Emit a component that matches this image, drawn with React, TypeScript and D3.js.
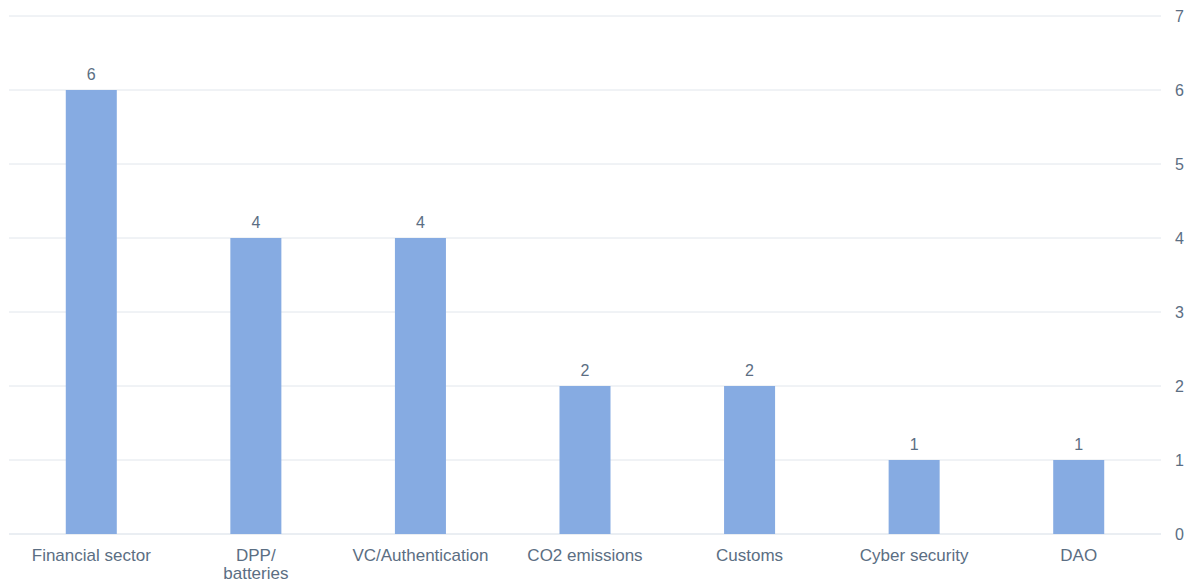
import React from 'react';
import * as d3 from 'd3';

// Values
const categories: string[] = [
  'Financial sector',
  'DPP/ batteries',
  'VC/Authentication',
  'CO2 emissions',
  'Customs',
  'Cyber security',
  'DAO',
];
const counts: number[] = [6, 4, 4, 2, 2, 1, 1];
const yTicks: number[] = [0, 1, 2, 3, 4, 5, 6, 7];

const W = 1185;
const H = 581;

const App: React.FC = () => {
  const x = d3.scaleBand<string>()
    .domain(categories)
    .range([9, 1161])
    .paddingInner(0.69)
    .paddingOuter(0.345);

  const y = d3.scaleLinear().domain([0, 7]).range([534, 16]);

  const textColor = '#5b6e83';
  const font = '"Liberation Sans", Arial, sans-serif';

  // wrap labels on the "/ " break like the original
  const splitLabel = (s: string) => (s.includes('/ ') ? s.split(' ') : [s]);

  return (
    <svg width={W} height={H} style={{ position: 'absolute', left: 0, top: 0, fontFamily: font }}>
      <rect width={W} height={H} fill="#ffffff" />
      {yTicks.map((t) => (
        <g key={t}>
          <line x1={9} x2={1161} y1={y(t)} y2={y(t)} stroke={t === 0 ? '#d5dde6' : '#e1e6ec'} strokeWidth={1} />
          <text x={1175} y={y(t)} dy="0.35em" fontSize={16} fill={textColor}>{t}</text>
        </g>
      ))}
      {categories.map((c, i) => {
        const x0 = x(c) as number;
        const cx = x0 + x.bandwidth() / 2;
        return (
          <g key={c}>
            <rect x={x0} y={y(counts[i])} width={x.bandwidth()} height={y(0) - y(counts[i])} fill="#86abe2" />
            <text x={cx} y={y(counts[i]) - 10} textAnchor="middle" fontSize={16} fill={textColor}>{counts[i]}</text>
            {splitLabel(c).map((line, j) => (
              <text key={j} x={cx} y={561 + j * 18} textAnchor="middle" fontSize={17} fill={textColor}>{line}</text>
            ))}
          </g>
        );
      })}
    </svg>
  );
};

export default App;
